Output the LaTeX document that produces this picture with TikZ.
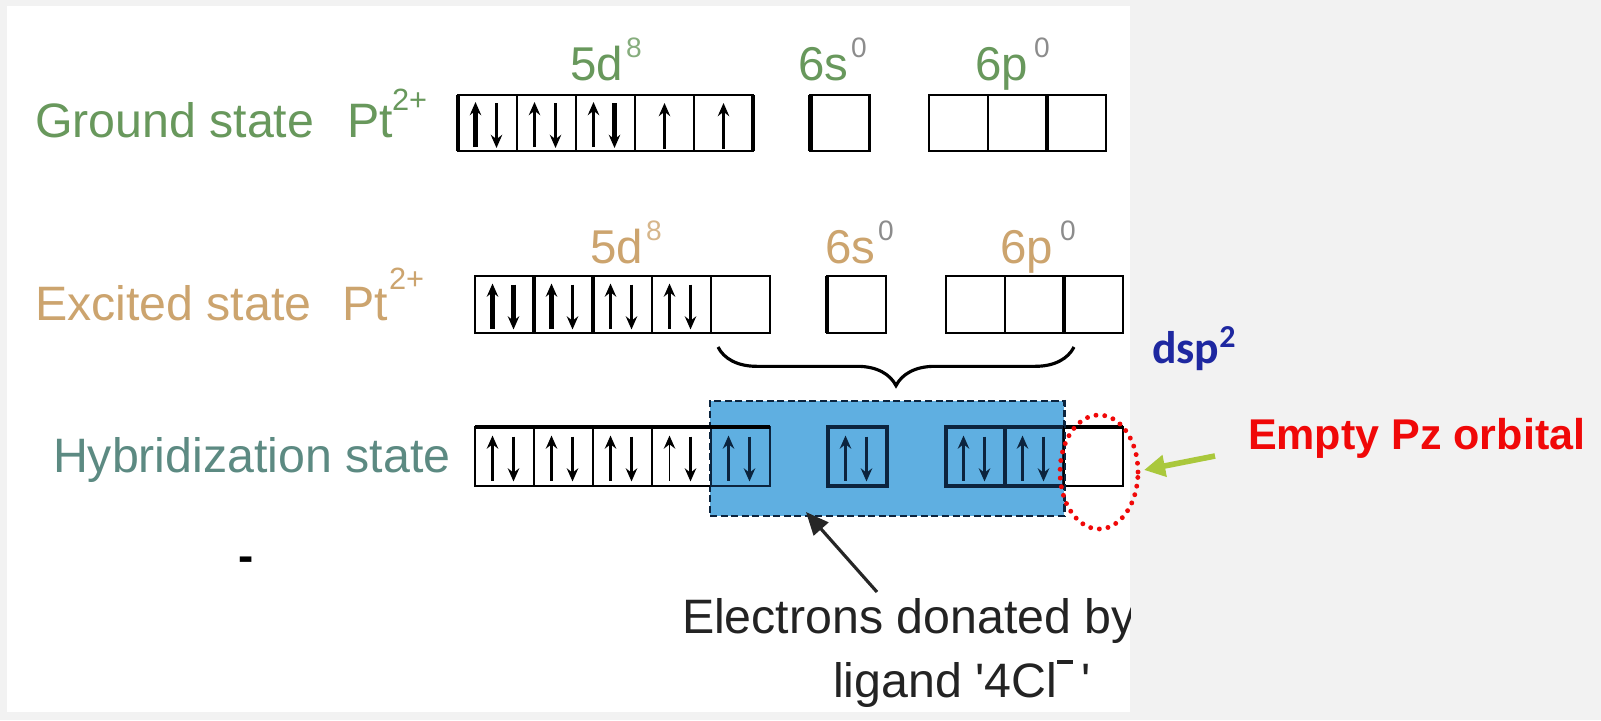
\documentclass[tikz,border=0pt]{standalone}
\usepackage{fontspec}
\setmainfont{Liberation Sans}
\newfontfamily\carlitofont{Carlito}
\usetikzlibrary{arrows.meta,decorations.pathreplacing,shapes.geometric}
\definecolor{gnd}{RGB}{104,152,92}
\definecolor{exc}{RGB}{204,164,110}
\definecolor{hyb}{RGB}{92,138,130}
\definecolor{hblue}{RGB}{95,175,225}
\definecolor{navy}{RGB}{12,36,62}
\definecolor{pzred}{RGB}{240,8,8}
\definecolor{dspblue}{RGB}{30,40,160}
\definecolor{lime}{RGB}{170,200,60}
\definecolor{bggray}{RGB}{242,242,242}
\definecolor{zerogray}{RGB}{140,140,140}
\definecolor{etext}{RGB}{35,35,35}
\newcommand\pairspin[4]{%
  \draw[spin=#3] (#1-12,#2+24) -- (#1-12,#2-21);
  \draw[spin=#4] (#1+9,#2-20) -- (#1+9,#2+25);
}
\tikzset{
  txt/.style={inner sep=0pt, outer sep=0pt, anchor=base west},
  big/.style={font=\fontsize{27.5pt}{30pt}\selectfont},
  orbl/.style={font=\fontsize{27pt}{30pt}\selectfont},
  supl/.style={font=\fontsize{16pt}{18pt}\selectfont},
  chg/.style={font=\fontsize{17.5pt}{19pt}\selectfont},
  orb/.style={draw=black, line width=1.2pt, inner sep=0pt, outer sep=0pt, minimum width=1.18cm, minimum height=1.12cm},
  orbb/.style={orb, minimum height=1.14cm},
  orbc/.style={orb, minimum height=1.18cm},
  navyorb/.style={orbc, draw=navy, line width=2pt},
  spin/.style={line width=#1, -{Stealth[length=7.5pt,width=6.5pt,inset=2.5pt]}},
  thickedge/.style={line width=2.4pt},
}
\begin{document}
\begin{tikzpicture}[x=0.02cm,y=-0.02cm]
\useasboundingbox (0,0) rectangle (1601,720);
\fill[bggray] (0,0) rectangle (1601,720);
\fill[white] (7,6) rectangle (1130,712);

% ---------- Ground state ----------
\node[txt,big,gnd] (gtxt) at (35,137) {Ground state};
\node[txt,big,gnd] (gpt) at (347,137) {Pt};
\node[txt,chg,gnd] (gch) at (392,110) {2+};
\node[txt,orbl,gnd] (g5d) at (570,80) {5d};
\node[txt,supl,gnd!80] (g8) at (626,57) {8};
\node[txt,orbl,gnd] (g6s) at (798,80) {6s};
\node[txt,supl,zerogray] (g0s) at (851,57) {0};
\node[txt,orbl,gnd] (g6p) at (975,80) {6p};
\node[txt,supl,zerogray] (g0p) at (1034,57) {0};

\foreach \i/\cx in {1/487.5,2/546.5,3/605.5,4/664.5,5/723.5}
  \node[orb] (gd\i) at (\cx,123) {};
\node[orb] (gs) at (840,123) {};
\foreach \i/\cx in {1/958.5,2/1017.5,3/1076.5}
  \node[orb] (gp\i) at (\cx,123) {};
\draw[thickedge] (gd1.north west) -- (gd1.south west);
\draw[thickedge] (gd5.north east) -- (gd5.south east);
\draw[thickedge] (gs.north west) -- (gs.south west);
\draw[thickedge] (gp3.north west) -- (gp3.south west);
\pairspin{487.5}{123}{2.4pt}{1.3pt}
\pairspin{546.5}{123}{1.2pt}{1.2pt}
\pairspin{605.5}{123}{1.3pt}{2.4pt}
\draw[spin=1.6pt] (664.5,149) -- (664.5,103);
\draw[spin=1.4pt] (723.5,149) -- (723.5,103);

% ---------- Excited state ----------
\node[txt,big,exc] (etxt) at (35,320) {Excited state};
\node[txt,big,exc] (ept) at (342,320) {Pt};
\node[txt,chg,exc] (ech) at (389,289) {2+};
\node[txt,orbl,exc] (e5d) at (590,263) {5d};
\node[txt,supl,exc!80] (e8) at (646,240) {8};
\node[txt,orbl,exc] (e6s) at (825,263) {6s};
\node[txt,supl,zerogray] (e0s) at (878,240) {0};
\node[txt,orbl,exc] (e6p) at (1000,263) {6p};
\node[txt,supl,zerogray] (e0p) at (1060,240) {0};

\foreach \i/\cx in {1/504.5,2/563.5,3/622.5,4/681.5,5/740.5}
  \node[orbb] (ed\i) at (\cx,304.5) {};
\node[orbb] (es) at (856.5,304.5) {};
\foreach \i/\cx in {1/975.5,2/1034.5,3/1093.5}
  \node[orbb] (ep\i) at (\cx,304.5) {};
\draw[thickedge] (ed2.north west) -- (ed2.south west);
\draw[thickedge] (ed3.north west) -- (ed3.south west);
\draw[thickedge] (es.north west) -- (es.south west);
\draw[thickedge] (ep3.north west) -- (ep3.south west);
\pairspin{504.5}{304.5}{2.4pt}{2.4pt}
\pairspin{563.5}{304.5}{2.4pt}{1.3pt}
\pairspin{622.5}{304.5}{1.2pt}{1.8pt}
\pairspin{681.5}{304.5}{1.2pt}{1.2pt}

% brace
\coordinate (bl) at (718,347);
\coordinate (br) at (1074,347);
\draw[line width=1.8pt, decorate, decoration={brace, mirror, amplitude=22pt}] (bl) -- (br);

% ---------- Hybridization state ----------
\node[txt,big,hyb] (htxt) at (53,472) {Hybridization state};
\node[fill=hblue, draw=navy, line width=1.3pt, dash pattern=on 4pt off 2pt, minimum width=7.08cm, minimum height=2.3cm, inner sep=0pt] (don) at (887,458.5) {};
\foreach \i/\cx in {1/504.5,2/563.5,3/622.5,4/681.5}
  \node[orbc] (hd\i) at (\cx,456.5) {};
\node[navyorb, line width=1.4pt] (hd5) at (740.5,456.5) {};
\node[navyorb] (hs) at (857.5,456.5) {};
\node[navyorb] (hp1) at (975.5,456.5) {};
\node[navyorb] (hp2) at (1034.5,456.5) {};
\node[orbc, fill=white] (hp3) at (1093.5,456.5) {};
\draw[thickedge] (hd1.north west) -- (hd5.north east);
\draw[thickedge] (hp3.north west) -- (hp3.north east);
\draw[line width=1.3pt, navy, dash pattern=on 4pt off 2pt] (don.north east) -- (don.south east);
\pairspin{504.5}{456.5}{1.2pt}{2.2pt}
\pairspin{563.5}{456.5}{1.2pt}{1.2pt}
\pairspin{622.5}{456.5}{2.2pt}{1.8pt}
\pairspin{681.5}{456.5}{1pt}{1.8pt}
\begin{scope}[navy]
\pairspin{740.5}{456.5}{1.2pt}{1.2pt}
\pairspin{857.5}{456.5}{1.2pt}{2.2pt}
\pairspin{975.5}{456.5}{2.2pt}{1.3pt}
\pairspin{1034.5}{456.5}{2.2pt}{2.2pt}
\end{scope}

% red dotted ellipse
\node[ellipse, draw=pzred, line width=2.8pt, dash pattern=on 0pt off 5pt, line cap=round, minimum width=1.56cm, minimum height=2.28cm, inner sep=0pt] (ring) at (1099,472) {};

% dash
\node[txt, font=\bfseries\fontsize{26pt}{28pt}\selectfont] (dash) at (238,571) {-};

% donated electrons
\begin{scope}
\clip (0,0) rectangle (1130,720);
\node[txt, etext, font=\fontsize{27.5pt}{30pt}\selectfont] (elec) at (682,633) {Electrons donated by};
\end{scope}
\node[txt, etext, font=\fontsize{27.5pt}{30pt}\selectfont] (lig) at (833,697) {ligand \textquotesingle 4Cl\raisebox{0.68em}{\rule{0.33em}{0.09em}}\,\textquotesingle};
\coordinate (ptail) at (877,592);
\coordinate (ptip) at (806,512);
\draw[line width=1.8pt, black!85, -{Triangle[length=13pt,width=11pt]}] (ptail) -- (ptip);

% right side
\node[txt, dspblue, font=\carlitofont\bfseries\fontsize{26pt}{28pt}\selectfont] (dsp) at (1152,363) {dsp\textsuperscript{2}};
\node[txt, pzred, font=\bfseries\fontsize{24.5pt}{26pt}\selectfont] (pz) at (1248,449) {Empty Pz orbital};
\coordinate (gtail) at (1215,456);
\coordinate (gtip) at (1144,470);
\draw[lime, line width=3.2pt, -{Triangle[length=12pt,width=12pt]}] (gtail) -- (gtip);
\end{tikzpicture}
\end{document}
